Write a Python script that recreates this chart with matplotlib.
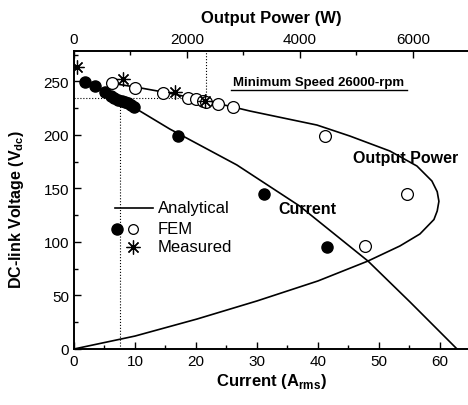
import matplotlib.pyplot as plt
from matplotlib.ticker import MultipleLocator

plt.rcParams['font.family'] = ['Liberation Sans', 'DejaVu Sans']

# --- analytical curves ---
cur_line_I = [1.8, 9.7, 15.7, 26.7, 37.0, 48.2, 55.1, 62.8]
cur_line_V = [249.5, 226.2, 205.6, 172.0, 133.6, 82.2, 43.9, 0.0]

pow_line_P = [637, 1080, 1575, 2018, 2814, 3115, 4301, 4885, 5593, 6071, 6336,
              6430, 6460, 6430, 6372, 6124, 5770, 5204, 4319, 3239, 2177, 1080, 0]
pow_line_V = [248.6, 244.9, 240.2, 235.5, 226.2, 222.4, 209.3, 199.0, 185.0, 171.0,
              157.0, 147.0, 138.0, 129.0, 121.0, 107.5, 96.3, 82.2, 63.6, 44.9, 28.0,
              12.1, 0.0]

# --- FEM current (filled) ---
fem_I = [1.8, 3.4, 5.1, 6.0, 6.6, 7.2, 7.8, 8.3, 8.8, 9.3, 9.8, 17.1, 31.1, 41.5]
fem_IV = [249.5, 246, 240, 236, 234.5, 233, 232, 230.5, 229.5, 228, 226.5, 199, 145, 95]

# --- FEM power (open) ---
fem_P = [670, 1080, 1580, 2020, 2160, 2280, 2340, 2550, 2810, 4440, 5890, 5150]
fem_PV = [249, 244, 239, 235, 234, 232, 231, 229, 226, 199, 145, 96]

# --- measured power ---
meas_P = [60, 870, 1790, 2320]
meas_V = [263.5, 252, 240, 232]

# operating point
op_I = 7.5
op_P = 2340
op_V = 234.5

fig = plt.figure(figsize=(4.68, 4.06), dpi=100)
ax = fig.add_axes([74 / 468, 56 / 406, 394 / 468, 298 / 406])
ax.set_xlim(0, 64.6)
ax.set_ylim(0, 278.5)

ax2 = ax.twiny()
ax2.set_xlim(0, 6975)

ax.plot(cur_line_I, cur_line_V, color='black', lw=1.2, zorder=2)
ax2.plot(pow_line_P, pow_line_V, color='black', lw=1.2, zorder=2)

ax.plot(fem_I, fem_IV, 'o', color='black', ms=8, zorder=4)
ax2.plot(fem_P, fem_PV, 'o', mfc='white', mec='black', mew=0.9, ms=8.5, zorder=4)
ax2.plot(meas_P, meas_V, marker=(8, 2, 0), ls='none', color='black', ms=10,
         mew=0.9, zorder=5)

# dotted guide lines
ax2.plot([0, op_P], [op_V, op_V], ':', color='black', lw=0.8, zorder=1)
ax.plot([op_I, op_I], [0, op_V], ':', color='black', lw=0.8, zorder=1)
ax2.plot([op_P, op_P], [op_V, 278.5], ':', color='black', lw=0.8, zorder=1)

for a in (ax, ax2):
    a.spines['right'].set_visible(False)
    for s in ('left', 'top', 'bottom'):
        a.spines[s].set_linewidth(1.2)

ax.xaxis.set_major_locator(MultipleLocator(10))
ax.xaxis.set_minor_locator(MultipleLocator(5))
ax.yaxis.set_major_locator(MultipleLocator(50))
ax.yaxis.set_minor_locator(MultipleLocator(25))
ax2.xaxis.set_major_locator(MultipleLocator(2000))
ax2.xaxis.set_minor_locator(MultipleLocator(1000))

ax.tick_params(which='both', direction='in', labelsize=11, right=False)
ax.tick_params(which='major', length=5, width=1)
ax.tick_params(which='minor', length=3, width=1)
ax2.tick_params(which='both', direction='in', labelsize=11)
ax2.tick_params(which='major', length=5, width=1)
ax2.tick_params(which='minor', length=3, width=1)

ax.set_xlabel('Current (A$_{\\mathregular{rms}}$)', fontsize=12, fontweight='bold', labelpad=2)
ax.set_ylabel('DC-link Voltage (V$_{\\mathregular{dc}}$)', fontsize=11.5, fontweight='bold')
ax.yaxis.set_label_coords(-(74 - 26) / 394, (350 - 210) / 298)
ax2.set_xlabel('Output Power (W)', fontsize=12, fontweight='bold', labelpad=7)


def axpos(px, py):
    return (px - 74) / 394, (350 - py) / 298


# annotations
tx0, ty0 = axpos(319, 83)
ax.text(tx0, ty0, 'Minimum Speed 26000-rpm', transform=ax.transAxes,
        ha='center', va='center', fontsize=9.5, fontweight='bold')
ux0, uy = axpos(231, 91)
ux1, _ = axpos(407, 91)
ax.plot([ux0, ux1], [uy, uy], transform=ax.transAxes, color='black', lw=1.0)
px_, py_ = axpos(406, 158)
ax.text(px_, py_, 'Output Power', transform=ax.transAxes,
        ha='center', va='center', fontsize=11.5, fontweight='bold')
cx_, cy_ = axpos(307, 210)
ax.text(cx_, cy_, 'Current', transform=ax.transAxes,
        ha='center', va='center', fontsize=11.5, fontweight='bold')

# legend drawn by hand
x0, y0 = axpos(115, 209)
x1, _ = axpos(153, 209)
ax.plot([x0, x1], [y0, y0], transform=ax.transAxes, color='black', lw=1.2)
tx, _ = axpos(158, 0)
ax.text(tx, y0, 'Analytical', transform=ax.transAxes, va='center', fontsize=12)
fx, fy = axpos(117, 230)
ox, _ = axpos(133, 230)
ax.plot([fx], [fy], 'o', color='black', ms=8, transform=ax.transAxes)
ax.plot([ox], [fy], 'o', mfc='white', mec='black', mew=0.9, ms=7, transform=ax.transAxes)
ax.text(tx, fy, 'FEM', transform=ax.transAxes, va='center', fontsize=12)
sx, sy = axpos(133, 248)
ax.plot([sx], [sy], marker=(8, 2, 0), color='black', ms=10, mew=0.9, transform=ax.transAxes)
ax.text(tx, sy, 'Measured', transform=ax.transAxes, va='center', fontsize=12)

fig.savefig('out.png', dpi=100)
